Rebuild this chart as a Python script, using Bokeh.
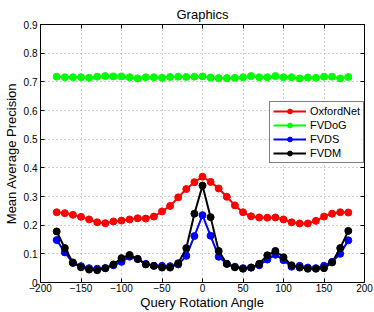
from bokeh.plotting import figure
from bokeh.models import Legend, LegendItem, LinearAxis, FixedTicker, Range1d
from bokeh.embed import file_html
from bokeh.resources import INLINE

angles = list(range(-180, 181, 10))
oxfordnet = [0.245, 0.242, 0.236, 0.229, 0.220, 0.210, 0.207, 0.213, 0.216, 0.220,
             0.224, 0.223, 0.230, 0.248, 0.267, 0.297, 0.326, 0.350, 0.369, 0.351,
             0.328, 0.299, 0.269, 0.245, 0.231, 0.227, 0.226, 0.227, 0.220, 0.210,
             0.206, 0.206, 0.215, 0.230, 0.240, 0.245, 0.244]
fvdog = [0.718, 0.716, 0.716, 0.716, 0.714, 0.718, 0.720, 0.719, 0.719, 0.716,
         0.712, 0.716, 0.716, 0.714, 0.717, 0.718, 0.717, 0.718, 0.719, 0.715,
         0.713, 0.713, 0.714, 0.716, 0.720, 0.716, 0.716, 0.720, 0.716, 0.716,
         0.712, 0.715, 0.714, 0.718, 0.718, 0.712, 0.717]
fvds = [0.148, 0.105, 0.068, 0.057, 0.050, 0.048, 0.050, 0.060, 0.072, 0.090,
        0.082, 0.065, 0.058, 0.058, 0.057, 0.063, 0.093, 0.162, 0.235, 0.163,
        0.090, 0.065, 0.055, 0.050, 0.052, 0.060, 0.080, 0.097, 0.078, 0.055,
        0.058, 0.052, 0.050, 0.058, 0.072, 0.100, 0.147]
fvdm = [0.178, 0.120, 0.070, 0.053, 0.045, 0.043, 0.050, 0.063, 0.085, 0.096,
        0.082, 0.063, 0.058, 0.052, 0.052, 0.067, 0.120, 0.240, 0.338, 0.228,
        0.110, 0.065, 0.053, 0.048, 0.052, 0.065, 0.095, 0.110, 0.088, 0.060,
        0.052, 0.048, 0.048, 0.050, 0.070, 0.120, 0.180]
series_names = ["OxfordNet", "FVDoG", "FVDS", "FVDM"]
series_values = [oxfordnet, fvdog, fvds, fvdm]
series_colors = ["#ff0000", "#00ff00", "#0000ff", "#000000"]
x_ticks = list(range(-200, 201, 50))
y_ticks = [0, 0.1, 0.2, 0.3, 0.4, 0.5, 0.6, 0.7, 0.8, 0.9]

FONT = "Liberation Sans"

p = figure(width=374, height=312, output_backend="svg", toolbar_location=None,
           x_range=Range1d(-200, 200), y_range=Range1d(0, 0.9),
           min_border_left=37, min_border_right=10, min_border_top=24, min_border_bottom=30)
p.title.text = "Graphics"
p.title.align = "center"
p.title.text_font = FONT
p.title.text_font_size = "13px"
p.title.text_font_style = "normal"
p.title.text_color = "black"
p.title.standoff = 6

p.outline_line_color = "black"
p.outline_line_width = 1
p.background_fill_color = "white"
p.border_fill_color = "white"

for ax in (p.xaxis[0], p.yaxis[0]):
    ax.major_tick_in = 4
    ax.major_tick_out = 0
    ax.minor_tick_line_color = None
    ax.major_label_text_font = FONT
    ax.major_label_text_font_size = "10px"
    ax.major_label_text_color = "black"
    ax.axis_label_text_font = FONT
    ax.axis_label_text_font_size = "13px"
    ax.axis_label_text_font_style = "normal"
    ax.axis_label_text_color = "black"
    ax.axis_line_color = "black"
    ax.major_tick_line_color = "black"

p.xaxis[0].ticker = FixedTicker(ticks=x_ticks)
p.yaxis[0].ticker = FixedTicker(ticks=y_ticks)
p.yaxis[0].major_label_overrides = {0: "0"}
p.xaxis[0].major_label_standoff = 1
p.xaxis[0].axis_label_standoff = 0
p.yaxis[0].major_label_standoff = 3
p.yaxis[0].axis_label_standoff = 2
p.xaxis[0].axis_label = "Query Rotation Angle"
p.yaxis[0].axis_label = "Mean Average Precision"

p.xgrid.ticker = FixedTicker(ticks=x_ticks)
p.ygrid.ticker = FixedTicker(ticks=y_ticks)
for g in (p.xgrid[0], p.ygrid[0]):
    g.grid_line_color = "#a0a0a0"
    g.grid_line_dash = "1 3"
    g.grid_line_width = 1

# ticks on top and right (box)
top = LinearAxis(ticker=FixedTicker(ticks=x_ticks), major_tick_in=4, major_tick_out=0,
                 minor_tick_line_color=None, major_label_text_color=None,
                 major_label_text_font_size="1px", major_tick_line_color="black",
                 major_label_standoff=0, axis_line_color="black")
right = LinearAxis(ticker=FixedTicker(ticks=y_ticks), major_tick_in=4, major_tick_out=0,
                   minor_tick_line_color=None, major_label_text_color=None,
                   major_label_text_font_size="1px", major_tick_line_color="black",
                   major_label_standoff=0, axis_line_color="black")
p.add_layout(top, "above")
p.add_layout(right, "right")

items = []
for name, vals, col in zip(series_names, series_values, series_colors):
    r1 = p.line(angles, vals, line_color=col, line_width=2)
    r2 = p.scatter(angles, vals, size=7, fill_color=col, line_color=col)
    items.append(LegendItem(label=name, renderers=[r1, r2]))

legend = Legend(items=items)
legend.label_text_font = FONT
legend.label_text_font_size = "11px"
legend.label_text_color = "black"
legend.label_height = 12
legend.glyph_height = 12
legend.glyph_width = 33
legend.spacing = 2
legend.padding = 3
legend.margin = 0
legend.border_line_color = "black"
legend.border_line_width = 1
legend.label_standoff = 4
legend.location = (229, 119)
p.add_layout(legend, "center")

open("out.html", "w").write(file_html(p, INLINE))
